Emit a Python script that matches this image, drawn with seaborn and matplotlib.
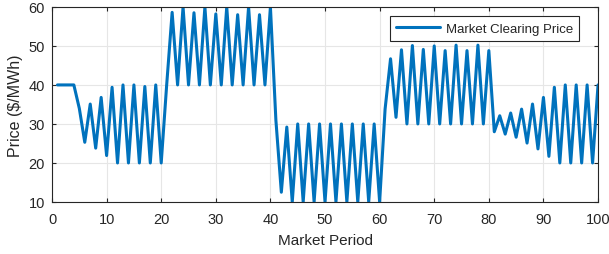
import numpy as np
import pandas as pd
import matplotlib
matplotlib.use("Agg")
import matplotlib.pyplot as plt
import seaborn as sns

# market clearing price per period
periods = list(range(1, 101))
prices = [
    40, 40, 40, 40, 34, 25.3, 35.1, 23.8, 36.8, 21.9,
    39.4, 20, 40, 20, 40, 20, 39.6, 20, 40, 20,
    40, 58.6, 40, 60, 40, 58.5, 40, 60, 40, 58.2,
    40, 60, 40, 58, 40, 60, 40, 58, 40, 60,
    31, 12.5, 29.2, 10, 30, 10, 30, 10, 30, 10,
    30, 10, 30, 10, 30, 10, 30, 10, 30, 10,
    33.8, 46.7, 31.7, 49, 30, 50.1, 30, 49.1, 30, 50,
    30, 48.8, 30, 50.2, 30, 48.8, 30, 50.2, 30, 48.8,
    28, 32.1, 27.4, 32.8, 26.6, 33.8, 25.1, 35.1, 23.6, 36.8,
    21.7, 39.4, 20, 40, 20, 40, 20, 40, 20, 40,
]
xticks = list(range(0, 101, 10))
yticks = list(range(10, 61, 10))

df = pd.DataFrame({"period": periods, "price": prices})

sns.set_style("whitegrid")
plt.rcParams["font.family"] = ["Liberation Sans", "DejaVu Sans"]

fig = plt.figure(figsize=(6.09, 2.55), dpi=100)
ax = fig.add_axes([0.0854, 0.204, 0.8966, 0.765])

sns.lineplot(data=df, x="period", y="price", color="#0072BD", linewidth=2.2,
             label="Market Clearing Price", ax=ax)

ax.set_xlim(0, 100)
ax.set_ylim(10, 60)
ax.set_xticks(xticks)
ax.set_yticks(yticks)
ax.tick_params(axis="both", direction="in", length=3, width=0.8, labelsize=10.5,
               colors="#262626", top=True, right=True, bottom=True, left=True)
ax.tick_params(axis="x", pad=7)
ax.tick_params(axis="y", pad=5)
ax.grid(True, color="#e6e6e6", linewidth=0.8)
for s in ax.spines.values():
    s.set_visible(True)
    s.set_color("#262626")
    s.set_linewidth(0.8)

ax.set_xlabel("Market Period", fontsize=11, color="#262626", labelpad=5)
ax.set_ylabel("Price (\\$/MWh)", fontsize=11.5, color="#262626", labelpad=4)

leg = ax.legend(loc="upper right", fontsize=9.5, frameon=True, fancybox=False,
                edgecolor="#262626", framealpha=1, borderpad=0.45,
                handlelength=3.4, handletextpad=0.4,
                bbox_to_anchor=(0.977, 0.985))
leg.get_frame().set_linewidth(0.8)

fig.savefig("out.png", dpi=100)
